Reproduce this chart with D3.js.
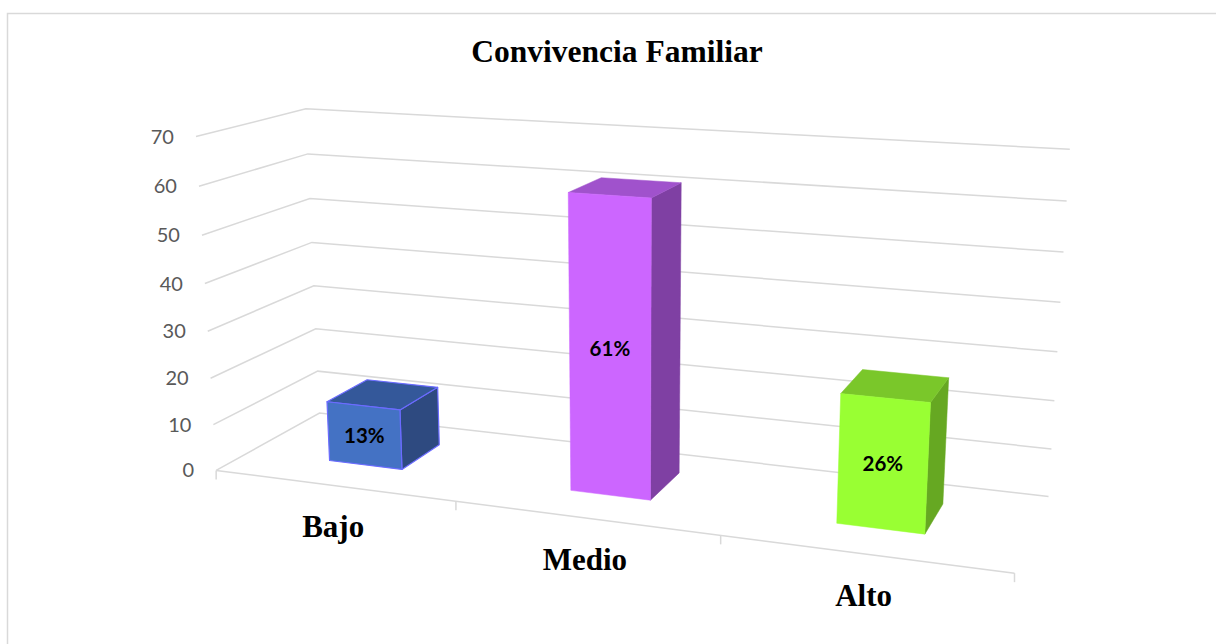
<!DOCTYPE html>
<html>
<head>
<meta charset="utf-8">
<script src="https://cdnjs.cloudflare.com/ajax/libs/d3/7.8.5/d3.min.js"></script>
<style>
  body { margin: 0; background: #fff; }
  svg { display: block; }
</style>
</head>
<body>
<svg id="chart" width="1216" height="644"></svg>
<script>
// datos
var categorias = ["Bajo", "Medio", "Alto"];
var valores = [13, 61, 26];
var etiquetas = ["13%", "61%", "26%"];
var ticksY = [0, 10, 20, 30, 40, 50, 60, 70];
var titulo = "Convivencia Familiar";

// colores de cada barra: frente, tapa, lado
var colores = [
  { frente: "#4472c4", tapa: "#34589a", lado: "#2e4a80", borde: "#6b6bff" },
  { frente: "#cc66ff", tapa: "#a052cc", lado: "#7f40a3", borde: null },
  { frente: "#99ff33", tapa: "#7ac72a", lado: "#66a822", borde: null }
];

var svg = d3.select("#chart");

// escalas en el espacio 3D (x: categorias 0..3, y: valor 0..1, z: profundidad 0 frente .. 1 fondo)
var x = d3.scaleBand().domain(categorias).range([0, 3]).paddingInner(0.69).paddingOuter(0.345);
var y = d3.scaleLinear().domain([0, 70]).range([0, 1]);
var zFrente = 0.32, zFondo = 0.73;

// puntos de referencia del marco (esquinas de paredes y piso) -> pantalla
var marco = [
  [0, 0, 0, 217, 470], [3, 0, 0, 1015, 572], [1, 0, 0, 456, 502], [2, 0, 0, 721, 536],
  [0, 1, 0, 195, 137], [0, 3/7, 0, 207, 331],
  [0, 1, 1, 307, 109], [0, 1/7, 1, 317, 371], [0, 4/7, 1, 312, 242],
  [3, 1, 1, 1070, 149], [3, 0, 1, 1048, 497], [3, 3/7, 1, 1057, 352]
];

// camara proyectiva ajustada por minimos cuadrados (DLT)
function ajustarCamara(pts) {
  var A = [], b = [];
  pts.forEach(function(p) {
    var X = p[0], Y = p[1], Z = p[2], u = (p[3] - 600) / 600, v = (p[4] - 320) / 320;
    A.push([X, Y, Z, 1, 0, 0, 0, 0, -u * X, -u * Y, -u * Z]); b.push(u);
    A.push([0, 0, 0, 0, X, Y, Z, 1, -v * X, -v * Y, -v * Z]); b.push(v);
  });
  var n = 11, M = [], r = [];
  for (var i = 0; i < n; i++) {
    M[i] = [];
    r[i] = 0;
    for (var j = 0; j < n; j++) {
      var s = 0;
      for (var k = 0; k < A.length; k++) s += A[k][i] * A[k][j];
      M[i][j] = s;
    }
    for (var k2 = 0; k2 < A.length; k2++) r[i] += A[k2][i] * b[k2];
  }
  for (var c = 0; c < n; c++) {
    var piv = c;
    for (var i2 = c + 1; i2 < n; i2++) if (Math.abs(M[i2][c]) > Math.abs(M[piv][c])) piv = i2;
    var t = M[c]; M[c] = M[piv]; M[piv] = t;
    var tr = r[c]; r[c] = r[piv]; r[piv] = tr;
    for (var i3 = c + 1; i3 < n; i3++) {
      var f = M[i3][c] / M[c][c];
      for (var j3 = c; j3 < n; j3++) M[i3][j3] -= f * M[c][j3];
      r[i3] -= f * r[c];
    }
  }
  var p = new Array(n);
  for (var i4 = n - 1; i4 >= 0; i4--) {
    var s2 = r[i4];
    for (var j4 = i4 + 1; j4 < n; j4++) s2 -= M[i4][j4] * p[j4];
    p[i4] = s2 / M[i4][i4];
  }
  return p;
}
var P = ajustarCamara(marco);

function proy(X, Y, Z) {
  var w = P[8] * X + P[9] * Y + P[10] * Z + 1;
  var u = (P[0] * X + P[1] * Y + P[2] * Z + P[3]) / w;
  var v = (P[4] * X + P[5] * Y + P[6] * Z + P[7]) / w;
  return [u * 600 + 600, v * 320 + 320];
}

var linea = d3.line();

// borde del grafico
svg.append("path")
  .attr("d", "M7.5,644 L7.5,13.5 L1216,13.5")
  .attr("fill", "none").attr("stroke", "#d9d9d9").attr("stroke-width", 1.5);

// titulo
svg.append("text")
  .attr("x", 617).attr("y", 62)
  .attr("text-anchor", "middle")
  .style("font-family", "'Liberation Serif', 'Times New Roman', serif")
  .style("font-weight", "bold").style("font-size", "31.5px")
  .attr("fill", "#000")
  .text(titulo);

// lineas de division (pared izquierda + pared del fondo)
var grid = svg.append("g");
ticksY.forEach(function(t) {
  var yy = y(t);
  grid.append("path")
    .attr("d", linea([proy(0, yy, 0), proy(0, yy, 1), proy(3, yy, 1)]))
    .attr("fill", "none").attr("stroke", "#d9d9d9").attr("stroke-width", 1.5);
  var pt = proy(0, yy, 0);
  grid.append("text")
    .attr("x", pt[0] - 22).attr("y", pt[1]).attr("dy", "0.35em")
    .attr("text-anchor", "end")
    .style("font-family", "Lato, 'Open Sans', sans-serif").style("font-size", "20px")
    .attr("fill", "#595959")
    .text(t);
});

// eje horizontal y marcas
var eje = svg.append("g");
eje.append("path")
  .attr("d", linea([proy(0, 0, 0), proy(3, 0, 0)]))
  .attr("fill", "none").attr("stroke", "#d9d9d9").attr("stroke-width", 1.5);
d3.range(0, 4).forEach(function(i) {
  var pt = proy(i, 0, 0);
  eje.append("line")
    .attr("x1", pt[0]).attr("y1", pt[1]).attr("x2", pt[0]).attr("y2", pt[1] + 9)
    .attr("stroke", "#d9d9d9").attr("stroke-width", 1.5);
});
categorias.forEach(function(c, i) {
  var pt = proy(i + 0.5, 0, 0);
  eje.append("text")
    .attr("x", pt[0]).attr("y", pt[1] + 52)
    .attr("text-anchor", "middle")
    .style("font-family", "'Liberation Serif', 'Times New Roman', serif")
    .style("font-weight", "bold").style("font-size", "31px")
    .attr("fill", "#000")
    .text(c);
});

// barras 3D
var barras = svg.append("g");
categorias.forEach(function(c, i) {
  var x0 = x(c), x1 = x(c) + x.bandwidth(), yy = y(valores[i]);
  var col = colores[i];
  var caras = [
    { pts: [[x1, 0, zFrente], [x1, 0, zFondo], [x1, yy, zFondo], [x1, yy, zFrente]], fill: col.lado },
    { pts: [[x0, yy, zFrente], [x1, yy, zFrente], [x1, yy, zFondo], [x0, yy, zFondo]], fill: col.tapa },
    { pts: [[x0, 0, zFrente], [x1, 0, zFrente], [x1, yy, zFrente], [x0, yy, zFrente]], fill: col.frente }
  ];
  caras.forEach(function(f) {
    barras.append("path")
      .attr("d", linea(f.pts.map(function(p) { return proy(p[0], p[1], p[2]); })) + "Z")
      .attr("fill", f.fill)
      .attr("stroke", col.borde || f.fill)
      .attr("stroke-width", col.borde ? 1.2 : 0.5)
      .attr("stroke-linejoin", "round");
  });
  var centro = proy((x0 + x1) / 2, yy / 2, zFrente);
  barras.append("text")
    .attr("x", centro[0]).attr("y", centro[1]).attr("dy", "0.35em")
    .attr("text-anchor", "middle")
    .style("font-family", "Lato, 'Open Sans', sans-serif")
    .style("font-weight", "bold").style("font-size", "20.5px")
    .attr("fill", "#000")
    .text(etiquetas[i]);
});
</script>
</body>
</html>
